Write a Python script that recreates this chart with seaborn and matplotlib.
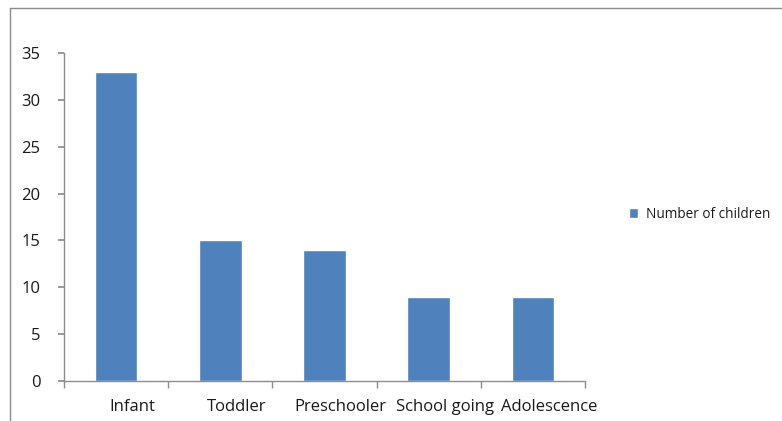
import matplotlib
matplotlib.use("Agg")
import matplotlib.pyplot as plt
import matplotlib.transforms as mtransforms
from matplotlib.lines import Line2D
import seaborn as sns
import pandas as pd

categories = ["Infant", "Toddler", "Preschooler", "School going", "Adolescence"]
values = [33, 15, 14, 9, 9]
series_name = "Number of children"
yticks = [0, 5, 10, 15, 20, 25, 30, 35]

sns.set_theme(style="white")
plt.rcParams['font.family'] = ['Open Sans', 'DejaVu Sans']

df = pd.DataFrame({"category": categories, "value": values, "series": series_name})

fig = plt.figure(figsize=(7.82, 4.21), dpi=100)
ax = fig.add_axes([64/782, 1-381/421, (585-64)/782, (381-53)/421])

sns.barplot(data=df, x="category", y="value", hue="series", palette=["#4F81BD"],
            width=0.41, ax=ax, saturation=1)

ax.set_ylim(0, 35)
ax.set_xlim(-0.5, len(categories)-0.5)
ax.set_yticks(yticks)
ax.set_yticklabels([str(t) for t in yticks], fontsize=12, color="#1a1a1a")
ax.set_xlabel("")
ax.set_ylabel("")

for s in ["top", "right"]:
    ax.spines[s].set_visible(False)
for s in ["left", "bottom"]:
    ax.spines[s].set_color("#8c8c8c")
    ax.spines[s].set_linewidth(1)

ax.tick_params(axis="y", which="major", length=4, color="#8c8c8c", direction="out", pad=13, left=True)
ax.set_xticks(range(len(categories)))
ax.set_xticklabels(categories, fontsize=12, color="#1a1a1a")
ax.tick_params(axis="x", which="major", length=0, pad=13)
ax.set_xticks([i - 0.5 for i in range(len(categories)+1)], minor=True)
ax.tick_params(axis="x", which="minor", length=5, color="#8c8c8c", direction="out", bottom=True)

offset = mtransforms.ScaledTranslation(16/100, 0, fig.dpi_scale_trans)
for lab in ax.get_xticklabels():
    lab.set_transform(lab.get_transform() + offset)

leg = ax.legend(loc="center left", bbox_to_anchor=(626/782, 1-214/421),
                bbox_transform=fig.transFigure, frameon=False, fontsize=9.8,
                handlelength=0.7, handleheight=0.7, handletextpad=0.55,
                borderaxespad=0, borderpad=0.2)
for t in leg.get_texts():
    t.set_color("#1a1a1a")

# outer frame (chart area border)
fig.add_artist(Line2D([10/782, 10/782], [0, 1-8/421], transform=fig.transFigure, color="#8c8c8c", lw=1))
fig.add_artist(Line2D([10/782, 1], [1-8/421, 1-8/421], transform=fig.transFigure, color="#8c8c8c", lw=1))

fig.savefig("out.png", dpi=100)
